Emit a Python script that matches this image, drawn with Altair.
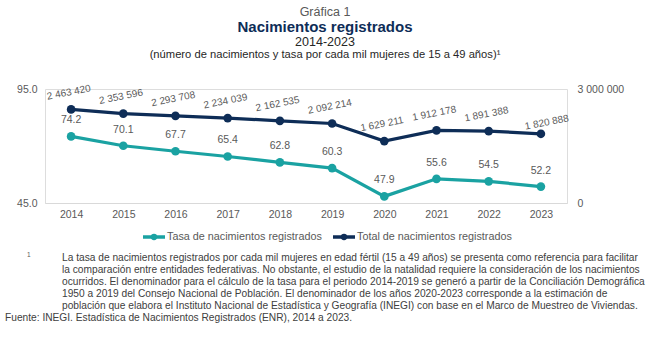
import altair as alt
import pandas as pd

years = ["2014", "2015", "2016", "2017", "2018", "2019", "2020", "2021", "2022", "2023"]
tasa = [74.2, 70.1, 67.7, 65.4, 62.8, 60.3, 47.9, 55.6, 54.5, 52.2]
total = [2463420, 2353596, 2293708, 2234039, 2162535, 2092214, 1629211, 1912178, 1891388, 1820888]

TEAL = "#1AA2A2"
NAVY = "#0E2D57"
GRAY = "#595959"
FONT = "Liberation Sans"

df = pd.DataFrame({"year": years, "tasa": tasa, "total": total})

W, H = 522, 114
xenc = alt.X("year:N", scale=alt.Scale(type="point", padding=0.5),
             axis=alt.Axis(title=None, labelAngle=0, ticks=False, domain=True,
                           domainColor="#D9D9D9", domainWidth=1.2, labelColor=GRAY,
                           labelFontSize=10.5, labelPadding=6, labelFont=FONT))

base = alt.Chart(df)

yl = alt.Y("tasa:Q", scale=alt.Scale(domain=[45, 95], zero=False, nice=False),
           axis=alt.Axis(title=None, values=[45, 95], format=".1f", ticks=False, domain=False,
                         grid=False, labelColor=GRAY, labelFontSize=10.5, labelPadding=8,
                         labelFont=FONT, orient="left"))
yr = alt.Y("total:Q", scale=alt.Scale(domain=[0, 3000000], nice=False),
           axis=alt.Axis(title=None, values=[0, 3000000], format=",d", ticks=False, domain=False,
                         grid=False, labelColor=GRAY, labelFontSize=10.5, labelPadding=10,
                         labelFont=FONT, orient="right", labelAlign="left"))

tasa_line = base.mark_line(color=TEAL, strokeWidth=3.2).encode(x=xenc, y=yl)
tasa_pts = base.mark_point(color=TEAL, filled=True, size=75, opacity=1).encode(x=xenc, y=yl)
tasa_txt = base.mark_text(color=GRAY, fontSize=10.5, dy=-16, font=FONT).encode(
    x=xenc, y=yl, text=alt.Text("tasa:Q", format=".1f"))
left = alt.layer(tasa_line, tasa_pts, tasa_txt)

tot_line = base.mark_line(color=NAVY, strokeWidth=3.2).encode(x=xenc, y=yr)
tot_pts = base.mark_point(color=NAVY, filled=True, size=75, opacity=1).encode(x=xenc, y=yr)
tot_txt = base.transform_filter(alt.datum.year != "2023").mark_text(
    color=GRAY, fontSize=10, dy=-17, dx=1, angle=349, font=FONT).encode(
    x=xenc, y=yr, text=alt.Text("total:Q", format=",d"))
tot_txt_last = base.transform_filter(alt.datum.year == "2023").mark_text(
    color=GRAY, fontSize=10, dy=-10, dx=8, angle=349, font=FONT).encode(
    x=xenc, y=yr, text=alt.Text("total:Q", format=",d"))
right = alt.layer(tot_line, tot_pts, tot_txt, tot_txt_last)

one = pd.DataFrame({"a": [0]})
ob = alt.Chart(one)

def txt(s, x, y, size=11, color=GRAY, weight="normal", align="center"):
    return ob.mark_text(fontSize=size, color=color, fontWeight=weight, align=align, font=FONT,
                        baseline="middle").encode(x=alt.value(x), y=alt.value(y), text=alt.value(s))

title_layers = [
    txt("Gráfica 1", 280, -77, size=12.5),
    txt("Nacimientos registrados", 280, -62, size=15, color="#0E2D57", weight="bold"),
    txt("2014-2023", 280, -47, size=12.5, color="#262626"),
    txt("(número de nacimientos y tasa por cada mil mujeres de 15 a 49 años)\u00b9", 280, -34,
        size=11.2, color="#262626"),
]

def legend_entry(x0, color, label):
    ly = 148
    ln = ob.mark_rule(color=color, strokeWidth=3.5).encode(
        x=alt.value(x0), x2=alt.value(x0 + 22), y=alt.value(ly))
    pt = ob.mark_point(color=color, filled=True, size=40, opacity=1).encode(
        x=alt.value(x0 + 11), y=alt.value(ly))
    t = txt(label, x0 + 24, ly, size=10.8, color=GRAY, align="left")
    return [ln, pt, t]

legend_layers = legend_entry(98, TEAL, "Tasa de nacimientos registrados") + \
    legend_entry(288, NAVY, "Total de nacimientos registrados")

note = ("La tasa de nacimientos registrados por cada mil mujeres en edad fértil (15 a 49 años) se presenta como referencia para facilitar\n"
        "la comparación entre entidades federativas. No obstante, el estudio de la natalidad requiere la consideración de los nacimientos\n"
        "ocurridos. El denominador para el cálculo de la tasa para el periodo 2014-2019 se generó a partir de la Conciliación Demográfica\n"
        "1950 a 2019 del Consejo Nacional de Población. El denominador de los años 2020-2023 corresponde a la estimación de\n"
        "población que elabora el Instituto Nacional de Estadística y Geografía (INEGI) con base en el Marco de Muestreo de Viviendas.")
note_layers = [
    txt("1", -18, 166, size=6.5, color=GRAY, align="left"),
    ob.mark_text(fontSize=10.2, color="#404040", align="left", baseline="middle", font=FONT,
                 lineBreak="\n", lineHeight=12).encode(
        x=alt.value(17), y=alt.value(169), text=alt.value(note)),
    txt("Fuente: INEGI. Estadística de Nacimientos Registrados (ENR), 2014 a 2023.", -40, 229,
        size=10.2, color="#404040", align="left"),
]

chart = alt.layer(left, right, *title_layers, *legend_layers, *note_layers).resolve_scale(
    y="independent"
).properties(
    width=W, height=H,
    autosize=alt.AutoSizeParams(type="none"),
    padding={"left": 45, "top": 89, "right": 83, "bottom": 145},
).configure_view(stroke=None).configure(
    locale={"number": {"decimal": ".", "thousands": " ", "grouping": [3], "currency": ["$", ""]}}
)

chart.save("out.html", embed_options={"renderer": "svg", "actions": False})
